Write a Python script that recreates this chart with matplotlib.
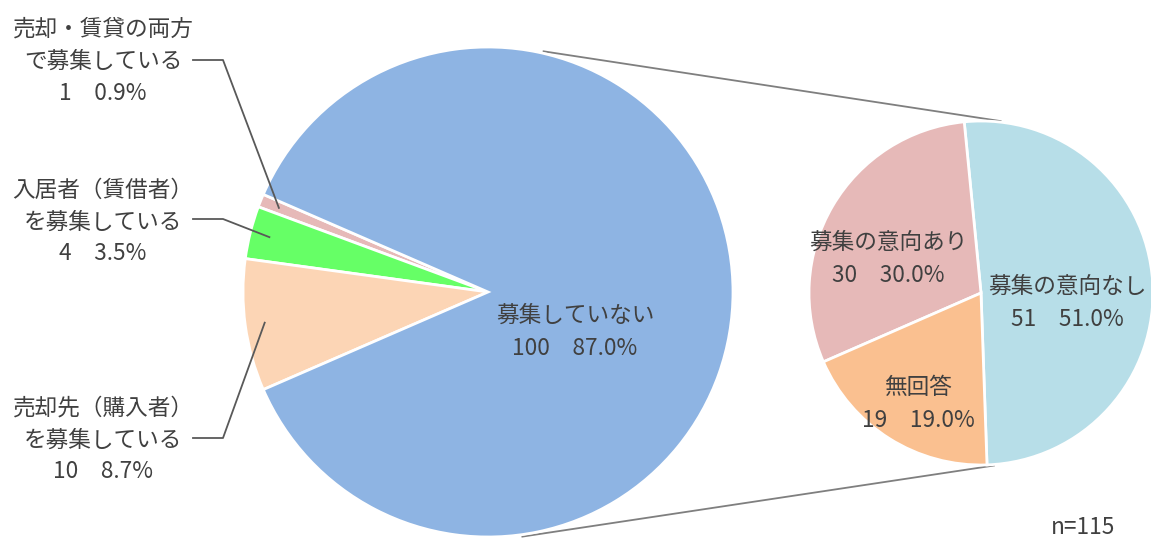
import numpy as np
import matplotlib
matplotlib.use("Agg")
import matplotlib.pyplot as plt

plt.rcParams['font.family'] = ['Noto Sans CJK JP', 'DejaVu Sans']

# ---- data ----
main_labels = ["売却・賃貸の両方\nで募集している", "入居者（賃借者）\nを募集している",
               "売却先（購入者）\nを募集している", "募集していない"]
main_counts = [1, 4, 10, 100]
main_pcts = [0.9, 3.5, 8.7, 87.0]
main_colors = ["#E6B9B8", "#66FF66", "#FCD5B5", "#8EB4E3"]

sub_labels = ["募集の意向なし", "募集の意向あり", "無回答"]
sub_counts = [51, 30, 19]
sub_pcts = [51.0, 30.0, 19.0]
sub_colors = ["#B7DEE8", "#E6B9B8", "#FAC090"]

n_text = "n=115"

TXT = "#404040"
W, H = 1151, 543
fig = plt.figure(figsize=(W / 100, H / 100), dpi=100)
ax = fig.add_axes([0, 0, 1, 1])

# ---- main pie ----
c1 = (488, H - 292)
r1 = 245
others = sum(main_counts[:-1]) / sum(main_counts) * 360
start1 = 180 - others / 2
w1, _ = ax.pie(main_counts, colors=main_colors, startangle=start1, counterclock=True,
               center=c1, radius=r1, frame=True,
               wedgeprops=dict(edgecolor="white", linewidth=2))

# ---- sub pie ----
c2 = (981, H - 293)
r2 = 172
w2, _ = ax.pie(sub_counts, colors=sub_colors, startangle=-88, counterclock=True,
               center=c2, radius=r2, frame=True,
               wedgeprops=dict(edgecolor="white", linewidth=2))
ax.set_xlim(0, W)
ax.set_ylim(0, H)
ax.axis("off")
ax.set_aspect("auto")

def pt(c, r, ang):
    a = np.deg2rad(ang)
    return c[0] + r * np.cos(a), c[1] + r * np.sin(a)

# connector lines
p1 = pt(c1, r1 + 2, 77)
q1 = pt(c2, r2 + 1, 83.5)
p2 = pt(c1, r1 + 2, -82)
q2 = pt(c2, r2 + 1, -85.7)
ax.plot([p1[0], q1[0]], [p1[1], q1[1]], color="#7F7F7F", lw=1.3, zorder=0)
ax.plot([p2[0], q2[0]], [p2[1], q2[1]], color="#7F7F7F", lw=1.3, zorder=0)

FS = 16.3
SP = "\u3000"

# main pie center label
ax.text(575, H - 332, f"{main_labels[3]}\n{main_counts[3]}{SP}{main_pcts[3]:.1f}%",
        ha="center", va="center", fontsize=FS, color=TXT, linespacing=1.6)

# left labels with leader lines
label_y = [60, 219, 438]
label_block_y = [61, 222, 440]
for i in range(3):
    w = w1[i]
    mid = (w.theta1 + w.theta2) / 2
    ex, ey = pt(c1, r1 * 0.92, mid)
    ly = H - label_y[i]
    ax.plot([193, 223, ex], [ly, ly, ey], color="#595959", lw=1.3, zorder=3)
    ax.text(103, H - label_block_y[i],
            f"{main_labels[i]}\n{main_counts[i]}{SP}{main_pcts[i]:.1f}%",
            ha="center", va="center", fontsize=FS, color=TXT, linespacing=1.5,
            multialignment="center")

# sub pie labels
sub_pos = [(1067, 303), (888, 259), (918, 404)]
for i in range(3):
    x, y = sub_pos[i]
    ax.text(x, H - y, f"{sub_labels[i]}\n{sub_counts[i]}{SP}{sub_pcts[i]:.1f}%",
            ha="center", va="center", fontsize=FS, color=TXT, linespacing=1.6)

ax.text(1083, H - 528, n_text, ha="center", va="center", fontsize=FS, color=TXT)

fig.savefig("out.png", dpi=100)
